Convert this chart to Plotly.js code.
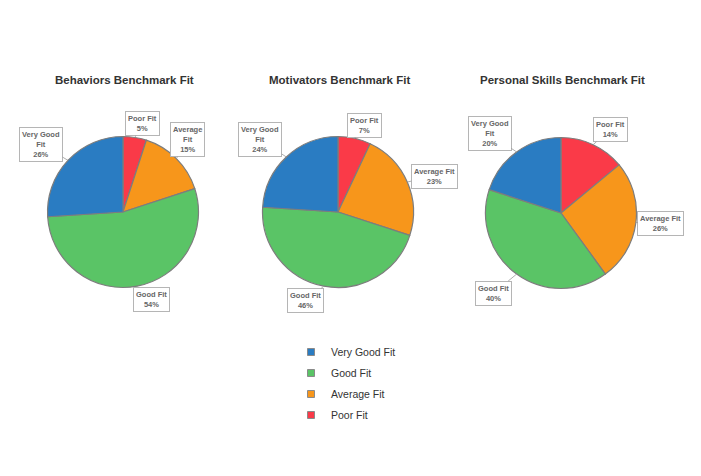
<!DOCTYPE html>
<html>
<head>
<meta charset="utf-8">
<script src="https://cdn.plot.ly/plotly-3.0.1.min.js"></script>
<style>html,body{margin:0;padding:0;background:#fff;}#chart{width:701px;height:476px;}</style>
</head>
<body>
<div id="chart"></div>
<script>
// ---- data ----
var categories = ["Very Good Fit", "Good Fit", "Average Fit", "Poor Fit"];
var chartTitles = ["Behaviors Benchmark Fit", "Motivators Benchmark Fit", "Personal Skills Benchmark Fit"];
var behaviorsValues = [26, 54, 15, 5];
var motivatorsValues = [24, 46, 23, 7];
var personalSkillsValues = [20, 40, 26, 14];

// ---- style / layout ----
var W = 701, H = 476;
var colors = ["#2a7cc2", "#5ac466", "#f7961b", "#fa3a48"];
var centersPx = [[123, 212], [338, 212], [561, 213]];
var R = 75.5;
// label box offsets (px) from the slice edge, per chart / category
var labelOffsets = [
  [[-27, -16], [14, 13], [11, -19], [8, -14]],
  [[-26, -17], [-18, 14], [27, -6], [10, -13]],
  [[-27, -18], [-23, 19], [25, 1], [17, -15]]
];
// label line-break choices per chart (category index -> wrapped)
var wrapped = [[true, false, true, false], [true, false, false, false], [true, false, false, false]];

function rev(a) { return a.slice().reverse(); }

var allValues = [behaviorsValues, motivatorsValues, personalSkillsValues];
var traces = [];
var annotations = [];

allValues.forEach(function (vals, k) {
  var cx = centersPx[k][0], cy = centersPx[k][1];
  // slices run clockwise from 12 o'clock in reverse category order
  traces.push({
    type: "pie",
    labels: rev(categories),
    values: rev(vals),
    sort: false,
    direction: "clockwise",
    rotation: 0,
    textinfo: "none",
    hoverinfo: "label+percent",
    showlegend: false,
    marker: { colors: rev(colors), line: { color: "#7d7d7d", width: 1.2 } },
    domain: {
      x: [(cx - R) / W, (cx + R) / W],
      y: [(H - cy - R) / H, (H - cy + R) / H]
    }
  });

  // title
  annotations.push({
    text: "<b>" + chartTitles[k] + "</b>",
    xref: "paper", yref: "paper",
    x: (cx + 1) / W, y: (H - 80) / H,
    xanchor: "center", yanchor: "middle",
    showarrow: false,
    font: { family: "Liberation Sans, Arial, sans-serif", size: 11.5, color: "#333333" }
  });

  // slice labels
  var total = vals.reduce(function (a, b) { return a + b; }, 0);
  var cum = 0;
  vals.forEach(function (v, i) {
    var mid = (cum + v / 2) / total * 2 * Math.PI; // ccw from top
    cum += v;
    var dx = -Math.sin(mid), dy = -Math.cos(mid); // screen coords (y down)
    var tipX = cx + R * dx, tipY = cy + R * dy;
    var name = categories[i];
    if (wrapped[k][i]) {
      name = name.replace(" Fit", "<br>Fit");
    }
    var pct = Math.round(v / total * 100) + "%";
    annotations.push({
      text: "<b>" + name + "<br>" + pct + "</b>",
      xref: "paper", yref: "paper",
      x: tipX / W, y: (H - tipY) / H,
      ax: labelOffsets[k][i][0], ay: labelOffsets[k][i][1],
      showarrow: true, arrowhead: 0, arrowwidth: 0.8, arrowcolor: "#9a9a9a",
      bgcolor: "#ffffff", bordercolor: "#b5b5b5", borderwidth: 1, borderpad: 2,
      font: { family: "Liberation Sans, Arial, sans-serif", size: 7.5, color: "#666666" }
    });
  });
});

// legend entries (one per category, no data drawn)
categories.forEach(function (c, i) {
  traces.push({
    type: "scatter", mode: "markers",
    x: [null], y: [null],
    name: c,
    legendgroup: "g" + i,
    showlegend: true,
    hoverinfo: "skip",
    marker: { symbol: "square", size: 7, color: colors[i], line: { color: "#8a8a8a", width: 1 } }
  });
});

var layout = {
  width: W, height: H,
  margin: { l: 0, r: 0, t: 0, b: 0, autoexpand: false },
  paper_bgcolor: "#ffffff",
  plot_bgcolor: "rgba(0,0,0,0)",
  xaxis: { visible: false, showgrid: false, zeroline: false },
  yaxis: { visible: false, showgrid: false, zeroline: false },
  showlegend: true,
  legend: {
    x: 291 / W, y: (H - 337.5) / H, xanchor: "left", yanchor: "top",
    orientation: "v",
    bgcolor: "rgba(0,0,0,0)",
    tracegroupgap: 2,
    font: { family: "Liberation Sans, Arial, sans-serif", size: 10.5, color: "#333333" },
    traceorder: "grouped"
  },
  annotations: annotations
};

Plotly.newPlot("chart", traces, layout, { displayModeBar: false, staticPlot: true });
</script>
</body>
</html>
